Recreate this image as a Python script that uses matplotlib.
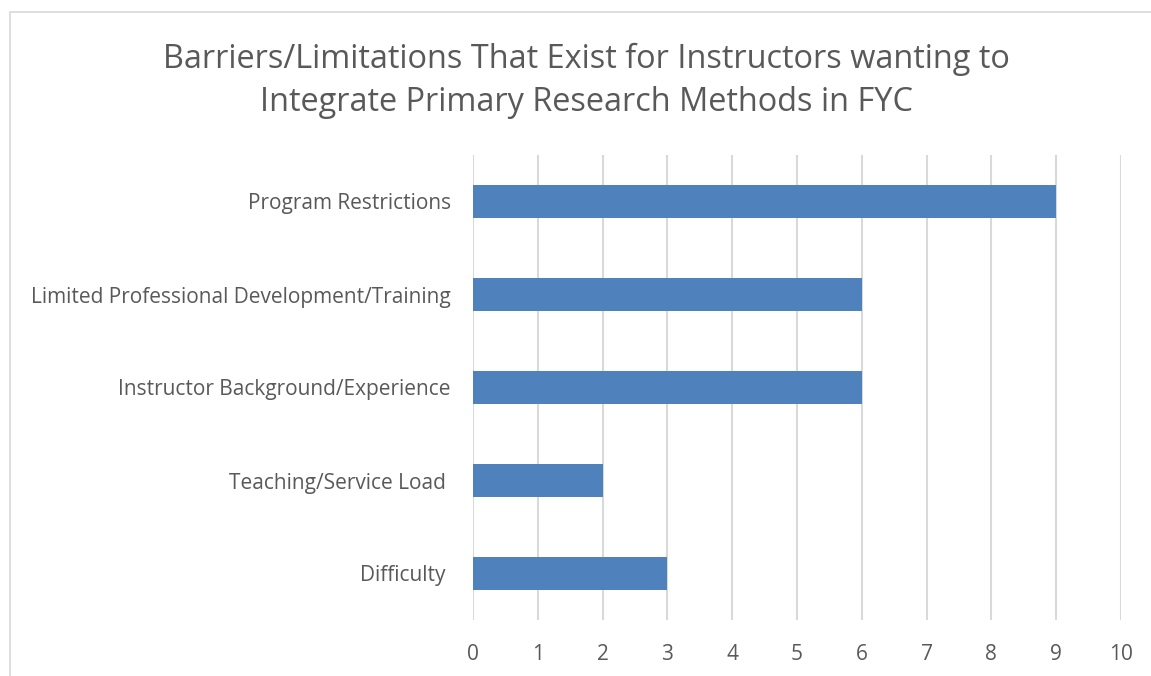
import matplotlib.pyplot as plt
from matplotlib.patches import Rectangle

categories = ["Difficulty ", "Teaching/Service Load ", "Instructor Background/Experience",
              "Limited Professional Development/Training", "Program Restrictions"]
values = [3, 2, 6, 6, 9]
xticks = list(range(0, 11))
title = "Barriers/Limitations That Exist for Instructors wanting to\nIntegrate Primary Research Methods in FYC"

plt.rcParams['font.family'] = ['Open Sans', 'DejaVu Sans']
text_color = "#595959"

fig = plt.figure(figsize=(11.51, 6.76), dpi=100)
ax = fig.add_axes([473 / 1151, 1 - 620 / 676, (1121 - 473) / 1151, (620 - 155) / 676])

ax.barh(range(len(categories)), values, height=0.36, color="#4F81BD", zorder=3)
ax.set_xlim(0, 10)
ax.set_ylim(-0.5, len(categories) - 0.5)
ax.set_xticks(xticks)
ax.set_yticks(range(len(categories)))
ax.set_yticklabels(categories)
ax.grid(axis="x", color="#D9D9D9", linewidth=1.5, zorder=0)
for s in ax.spines.values():
    s.set_visible(False)
ax.tick_params(axis="both", length=0, labelsize=15, colors=text_color)
ax.tick_params(axis="x", pad=17)
ax.tick_params(axis="y", pad=16)

fig.text(586 / 1151, 1 - 81 / 676, title, ha="center", va="center",
         fontsize=23.4, color=text_color, linespacing=1.4)

# chart border (cut off at right and bottom)
fig.patches.append(Rectangle((10 / 1151, -0.1), 1.2, 1 - 12 / 676 + 0.1,
                             transform=fig.transFigure, fill=False,
                             edgecolor="#D9D9D9", linewidth=1.2))

fig.savefig("out.png", dpi=100)
